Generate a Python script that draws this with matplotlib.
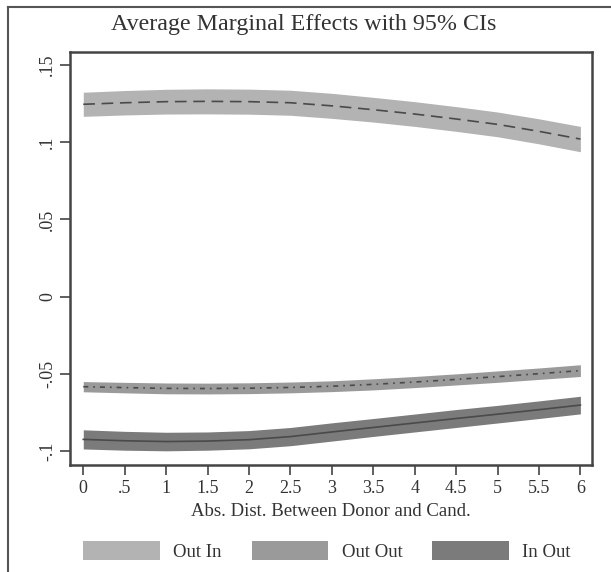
import matplotlib
matplotlib.use("Agg")
import matplotlib.pyplot as plt
from matplotlib.patches import Patch
from matplotlib.lines import Line2D

plt.rcParams["font.family"] = ["Liberation Serif", "DejaVu Serif"]

# distance between donor and candidate
dist = [0, 0.5, 1, 1.5, 2, 2.5, 3, 3.5, 4, 4.5, 5, 5.5, 6]

# average marginal effects (point estimates)
out_in = [0.1245, 0.1255, 0.1262, 0.1264, 0.1262, 0.1255, 0.1235, 0.1210, 0.1182, 0.1150, 0.1115, 0.1070, 0.1020]
out_out = [-0.0582, -0.0588, -0.0593, -0.0594, -0.0592, -0.0587, -0.0579, -0.0567, -0.0552, -0.0535, -0.0517, -0.0498, -0.0478]
in_out = [-0.0923, -0.0932, -0.0937, -0.0934, -0.0925, -0.0905, -0.0875, -0.0846, -0.0817, -0.0788, -0.0760, -0.0731, -0.0701]

# 95% CI half widths
out_in_hw = [0.0078, 0.0079, 0.0080, 0.0081, 0.0081, 0.0081, 0.0081, 0.0080, 0.0080, 0.0080, 0.0080, 0.0081, 0.0082]
out_out_hw = [0.0033, 0.0034, 0.0035, 0.0035, 0.0035, 0.0035, 0.0035, 0.0036, 0.0036, 0.0036, 0.0037, 0.0037, 0.0038]
in_out_hw = [0.0062, 0.0061, 0.0060, 0.0059, 0.0059, 0.0059, 0.0059, 0.0058, 0.0058, 0.0058, 0.0057, 0.0057, 0.0057]

series = ["Out In", "Out Out", "In Out"]
xticks = [0, 0.5, 1, 1.5, 2, 2.5, 3, 3.5, 4, 4.5, 5, 5.5, 6]
xticklabels = ["0", ".5", "1", "1.5", "2", "2.5", "3", "3.5", "4", "4.5", "5", "5.5", "6"]
yticks = [-0.1, -0.05, 0, 0.05, 0.1, 0.15]
yticklabels = ["-.1", "-.05", "0", ".05", ".1", ".15"]

band_colors = ["#b3b3b3", "#9a9a9a", "#7b7b7b"]
line_color = "#4a4a4a"
frame_color = "#555555"

fig = plt.figure(figsize=(6.11, 5.72), dpi=100)
ax = fig.add_axes([0.1146, 0.187, 0.8543, 0.722])

def band(y, hw):
    return [a - b for a, b in zip(y, hw)], [a + b for a, b in zip(y, hw)]

lo, hi = band(out_in, out_in_hw)
ax.fill_between(dist, lo, hi, color=band_colors[0], lw=0)
ax.plot(dist, out_in, color=line_color, lw=1.2, dashes=(7, 4))

lo, hi = band(out_out, out_out_hw)
ax.fill_between(dist, lo, hi, color=band_colors[1], lw=0)
ax.plot(dist, out_out, color=line_color, lw=1.2, dashes=(3, 3, 1, 3))

lo, hi = band(in_out, in_out_hw)
ax.fill_between(dist, lo, hi, color=band_colors[2], lw=0)
ax.plot(dist, in_out, color=line_color, lw=1.2)

ax.set_xlim(-0.16, 6.14)
ax.set_ylim(-0.1089, 0.1583)
ax.set_xticks(xticks)
ax.set_xticklabels(xticklabels, fontsize=13, color="#333333")
ax.set_yticks(yticks)
ax.set_yticklabels(yticklabels, fontsize=13, color="#333333", rotation=90, va="center")
ax.tick_params(direction="out", length=7, width=1.2, color="#444444", pad=4)
ax.tick_params(axis="y", pad=3)
for s in ax.spines.values():
    s.set_linewidth(1.8)
    s.set_color("#444444")

ax.set_xlabel("Abs. Dist. Between Donor and Cand.", fontsize=13.5, color="#333333", labelpad=4)
fig.text(0.497, 0.957, "Average Marginal Effects with 95% CIs", fontsize=17.3, color="#333333",
         ha="center", va="center")

handles = [Patch(facecolor=c, edgecolor="none") for c in band_colors]
fig.legend(handles, series, loc="center", bbox_to_anchor=(0.535, 0.037), ncol=3, frameon=False,
           fontsize=13.5, handlelength=4.1, handleheight=1.2, handletextpad=0.7,
           columnspacing=1.6, labelcolor="#333333")

# outer graph region frame (partly cropped in the original)
fig.add_artist(Line2D([8 / 611, 8 / 611], [0, 1 - 7 / 572], color=frame_color, lw=1.5))
fig.add_artist(Line2D([8 / 611, 1], [1 - 7 / 572, 1 - 7 / 572], color=frame_color, lw=1.5))

fig.savefig("out.png", dpi=100)
